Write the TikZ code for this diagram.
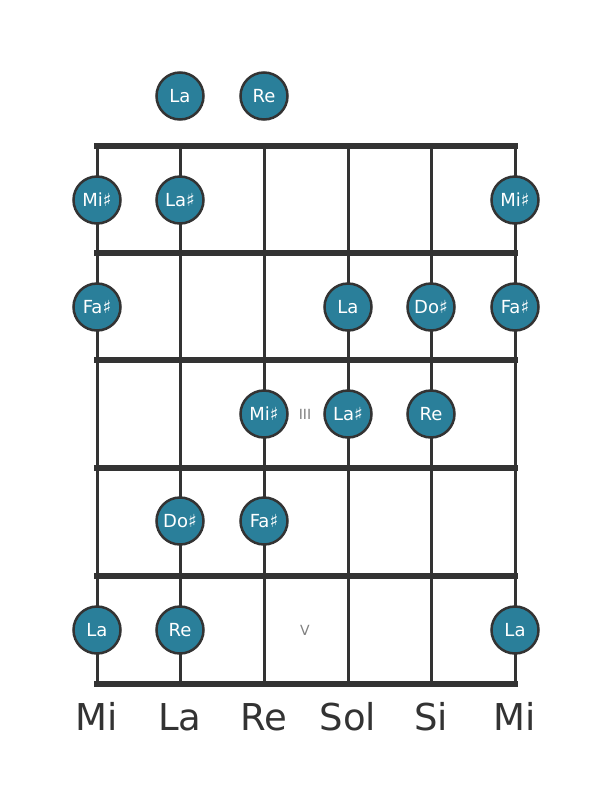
\documentclass[tikz,border=0pt]{standalone}
\usepackage{fontspec}
\setmainfont{DejaVu Sans}
\definecolor{notefill}{HTML}{2A7F9A}
\definecolor{gridline}{HTML}{333333}
\tikzset{
    note/.style={circle, draw=gridline, line width=2.5pt, fill=notefill, text=white,
        minimum size=47pt, inner sep=0pt, font=\fontsize{18}{18}\selectfont},
    fretmark/.style={text=gray, font=\fontsize{14}{14}\selectfont},
    strname/.style={text=gridline, anchor=base, font=\fontsize{37}{37}\selectfont},
    guitarstring/.style={draw=gridline, line width=3pt},
    fretline/.style={draw=gridline, line width=5.5pt, line cap=rect},
}
\begin{document}
\begin{tikzpicture}[x=1pt, y=-1pt]
        \def\ytop{146}
        \def\ybot{684}
        \useasboundingbox (0,0) rectangle (611,801);

        % strings
        \foreach \s/\x in {1/97,2/180,3/264,4/348,5/431,6/515} {
            \coordinate (top\s) at (\x,\ytop);
            \coordinate (bot\s) at (\x,\ybot);
            \draw[guitarstring] (top\s) -- (bot\s);
        }
        % frets
        \foreach \f/\y in {0/146,1/253,2/360,3/468,4/576,5/684} {
            \coordinate (fretL\f) at (97,\y);
            \coordinate (fretR\f) at (515,\y);
            \draw[fretline] (fretL\f) -- (fretR\f);
        }

        % open strings
        \node[note] (open2) at (180,96) {La};
        \node[note] (open3) at (264,96) {Re};
        % fret 1
        \node[note] (f1s1) at (97,200) {Mi♯};
        \node[note] (f1s2) at (180,200) {La♯};
        \node[note] (f1s6) at (515,200) {Mi♯};
        % fret 2
        \node[note] (f2s1) at (97,307) {Fa♯};
        \node[note] (f2s4) at (348,307) {La};
        \node[note] (f2s5) at (431,307) {Do♯};
        \node[note] (f2s6) at (515,307) {Fa♯};
        % fret 3
        \node[note] (f3s3) at (264,414) {Mi♯};
        \node[note] (f3s4) at (348,414) {La♯};
        \node[note] (f3s5) at (431,414) {Re};
        \node[fretmark] (mark3) at (305,414) {III};
        % fret 4
        \node[note] (f4s2) at (180,521) {Do♯};
        \node[note] (f4s3) at (264,521) {Fa♯};
        % fret 5
        \node[note] (f5s1) at (97,630) {La};
        \node[note] (f5s2) at (180,630) {Re};
        \node[note] (f5s6) at (515,630) {La};
        \node[fretmark] (mark5) at (305,630) {V};

        % string names
        \foreach \s/\x/\name in {1/97/Mi,2/180/La,3/264/Re,4/348/Sol,5/431/Si,6/515/Mi}
            \node[strname] (name\s) at (\x,730) {\name};
    \end{tikzpicture}
\end{document}
